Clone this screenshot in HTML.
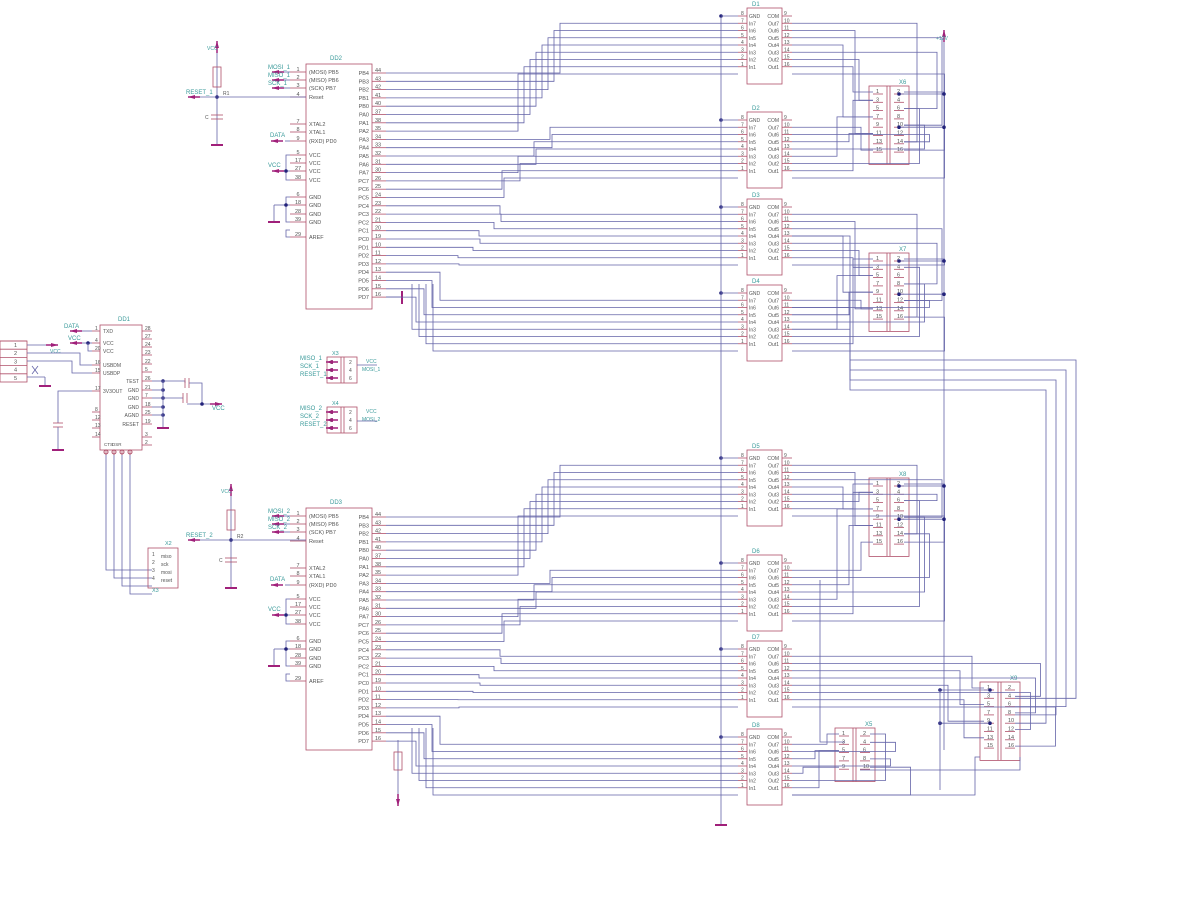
<!DOCTYPE html>
<html><head><meta charset="utf-8"><style>
html,body{margin:0;padding:0;background:#fff;width:1200px;height:921px;overflow:hidden}
svg{display:block}
text{font-family:"Liberation Sans",sans-serif}
</style></head><body>
<svg id="s" width="1200" height="921" viewBox="0 0 1200 921" xmlns="http://www.w3.org/2000/svg"></svg>
<script>
const S=document.getElementById('s');let out='';
const WC='#6464a8',CC='#b0506a',TC='#555',LC='#3a9a9a';
function L(x1,y1,x2,y2,c,w){out+=`<line x1="${x1}" y1="${y1}" x2="${x2}" y2="${y2}" stroke="${c||WC}" stroke-width="${w||0.8}"/>`;}
function P(pts,c){out+=`<polyline points="${pts.map(p=>p.join(',')).join(' ')}" fill="none" stroke="${c||WC}" stroke-width="0.8"/>`;}
function R(x,y,w,h,c){out+=`<rect x="${x}" y="${y}" width="${w}" height="${h}" fill="none" stroke="${c||CC}" stroke-width="0.8"/>`;}
function T(x,y,t,s,c,a){out+=`<text x="${x}" y="${y}" font-size="${s||6}" fill="${c||TC}" ${a?'text-anchor="'+a+'"':''}>${t}</text>`;}
function D(x,y){out+=`<circle cx="${x}" cy="${y}" r="1.8" fill="#22227a"/>`;}
function G(x,y){L(x-6,y,x+6,y,'#a0207a',2);}
function Arr(x,y,dir,label,lx,ly){
  out+=`<polygon points="${dir<0?`${x},${y} ${x+7},${y-2} ${x+7},${y+2}`:`${x},${y} ${x-7},${y-2} ${x-7},${y+2}`}" fill="#a0207a"/>`;
  L(dir<0?x:x-12,y,dir<0?x+12:x,y,'#a0207a',1.5);
  if(label)T(lx,ly,label,6,LC);
}
function ArrV(x,y,dir){ // dir -1 up, 1 down; tip at y
  out+=`<polygon points="${x},${y} ${x-2},${y-7*dir} ${x+2},${y-7*dir}" fill="#a0207a"/>`;
  L(x,y,x,y-12*dir,'#a0207a',1.5);
}
const rn=['PB4','PB3','PB2','PB1','PB0','PA0','PA1','PA2','PA3','PA4','PA5','PA6','PA7','PC7','PC6','PC5','PC4','PC3','PC2','PC1','PC0','PD1','PD2','PD3','PD4','PD5','PD6','PD7'];
const rnum=[44,43,42,41,40,37,38,35,34,33,32,31,30,26,25,24,23,22,21,20,19,10,11,12,13,14,15,16];
function MCU(y0,name,k){
  R(306,y0,66,y0>400?242:245);T(330,y0-4,name,6,LC);
  const lp=[[1,'(MOSI) PB5',8],[2,'(MISO) PB6',16],[3,'(SCK) PB7',24],[4,'Reset',33],[7,'XTAL2',60],[8,'XTAL1',68],[9,'(RXD) PD0',77],[5,'VCC',91],[17,'VCC',99],[27,'VCC',107],[38,'VCC',116],[6,'GND',133],[18,'GND',141],[28,'GND',150],[39,'GND',158],[29,'AREF',173]];
  lp.forEach(p=>{const y=y0+p[2];L(290,y,306,y,CC);T(298,y-1,p[0],5.5,TC,'middle');T(309,y+2,p[1],5.5);});
  P([[290,y0+91],[286,y0+91],[286,y0+116],[290,y0+116]]);P([[290,y0+133],[286,y0+133],[286,y0+158],[290,y0+158]]);
  L(278,y0+107,290,y0+107);D(286,y0+107);Arr(272,y0+107,-1,'VCC',268,y0+103);
  L(274,y0+141,290,y0+141);D(286,y0+141);L(274,y0+141,274,y0+158);G(274,y0+158);
  P([[290,y0+173],[286,y0+173],[286,y0+166],[290,y0+166]]);
  L(285,y0+77,290,y0+77);Arr(271,y0+77,-1,'DATA',270,y0+73);
  const ml=k==1?['MOSI_1','MISO_1','SCK_1']:['MOSI_2','MISO_2','SCK_2'];
  for(let i=0;i<3;i++){Arr(272,y0+8+8*i,-1,ml[i],268,y0+5+8*i);L(284,y0+8+8*i,290,y0+8+8*i);}
  for(let i=0;i<28;i++){const y=y0+9+i*8.3;L(372,y,386,y,CC);T(369,y+2,rn[i],5.5,TC,'end');T(375,y-1,rnum[i],5.5);}
}
MCU(64,'DD2',1);MCU(508,'DD3',2);
function RN(x,y0,lab,name){
  L(x,y0,x,y0+100);ArrV(x,y0-4,-1);R(x-4,y0+22,8,20);T(x+6,y0+50,name,5,TC);
  D(x,y0+52);L(x,y0+52,306,y0+52);Arr(188,y0+52,-1,lab,186,y0+49);L(200,y0+52,x,y0+52);
  L(x-6,y0+70,x+6,y0+70,CC);L(x-6,y0+74,x+6,y0+74,CC);T(x-12,y0+74,'C',5);G(x,y0+100);
}
RN(217,45,'RESET_1','R1');RN(231,488,'RESET_2','R2');
T(207,50,'VCC',5,LC);T(221,493,'VCC',5,LC);
L(386,297,402,297);L(402,291,402,304,'#a0207a',2);
L(398,740,398,800);R(394,752,8,18);ArrV(398,806,1);
const DY=[8,112,199,285,450,555,641,729];
const DDY=DY.map(y=>{const r=[];for(let k=0;k<9;k++)r.push(y+8+k*7.25);return r;});
DY.forEach((y,i)=>{R(747,y,35,76);T(752,y-2,'D'+(i+1),6,LC);
 const ln=['GND','In7','In6','In5','In4','In3','In2','In1'],rn2=['COM','Out7','Out6','Out5','Out4','Out3','Out2','Out1'];
 for(let k=0;k<8;k++){const yy=DDY[i][k];L(738,yy,747,yy,CC);L(782,yy,792,yy,CC);T(749,yy+2,ln[k],5);T(779,yy+2,rn2[k],5,TC,'end');T(741,yy-1,8-k,5);T(784,yy-1,9+k,5);}
 D(721,DDY[i][0]);L(721,DDY[i][0],738,DDY[i][0]);});
L(721,18,721,825);L(715,825,727,825,'#a0207a',2);
L(944,35,944,750);ArrV(944,30,-1);T(936,40,'+12V',5,LC);
function mcuWire(y0,dStart){
  for(let i=0;i<28;i++){
    const g=dStart+Math.floor(i/8),k=i%8;const ty=DDY[g][k+1];const sy=y0+9+i*8.3;
    let tx;
    if(i<8)tx=560-i*6; else if(i<16)tx=550-(i-8)*8+((k%2)?10:0); else if(i<24)tx=500-(i-16)*7+((k%3)?8:0); else tx=440-(i-24)*8;
    P([[386,sy],[tx,sy],[tx,ty],[738,ty]]);
  }
  for(let k=4;k<8;k++){const ty=DDY[dStart+3][k+1];const x=412+(k-4)*7;P([[x,y0+220],[x,ty],[738,ty]]);}
}
mcuWire(64,0);mcuWire(508,4);
function CON(x,y0,n,name){const h=n*8.3+12;R(x,y0,40,h);L(x+18,y0,x+18,y0+h,CC);L(x+21,y0,x+21,y0+h,CC);T(x+30,y0-2,name,6,LC);
 const ys=[];for(let r=0;r<n;r++){const y=y0+6+r*8.3;ys.push(y);L(x+4,y+2,x+14,y+2,CC);L(x+25,y+2,x+35,y+2,CC);T(x+7,y+1,2*r+1,5.5);T(x+28,y+1,2*r+2,5.5);}
 return ys;}
const X6=CON(869,86,8,'X6'),X7=CON(869,253,8,'X7'),X8=CON(869,478,8,'X8'),X9=CON(980,682,8,'X9'),X5=CON(835,728,5,'X5');
function outs(di,cx,cy,side){
  for(let k=0;k<8;k++){const sy=DDY[di][k+1];const ty=cy[k%cy.length];
    let tx;
    if(side[k]=='L'){tx=cx-8-((k*3)%14)*2;P([[792,sy],[tx,sy],[tx,ty],[cx+4,ty]]);}
    else{tx=cx+48+((k*5)%12)*2.5;P([[792,sy],[tx,sy],[tx,ty],[cx+35,ty]]);}
  }}
outs(0,869,[X6[6],X6[5],X6[4],X6[3],X6[2],X6[1],X6[0],X6[7]],['R','L','R','L','R','L','L','R']);
outs(1,869,[X6[7],X6[6],X6[5],X6[4],X6[3],X6[2],X6[1],X6[0]],['L','R','L','R','L','R','L','R']);
outs(2,869,[X7[7],X7[6],X7[5],X7[4],X7[3],X7[2],X7[1],X7[0]],['R','L','R','L','R','L','L','R']);
outs(3,869,[X7[6],X7[5],X7[4],X7[3],X7[2],X7[1],X7[0],X7[7]],['L','R','L','R','L','R','L','R']);
outs(4,869,[X8[6],X8[5],X8[4],X8[3],X8[2],X8[1],X8[0],X8[7]],['R','L','R','L','R','L','L','R']);
outs(5,869,[X8[7],X8[6],X8[5],X8[4],X8[3],X8[2],X8[1],X8[0]],['L','R','L','R','L','R','L','R']);
outs(6,980,[X9[0],X9[1],X9[2],X9[3],X9[4],X9[5],X9[6],X9[7]],['L','R','L','R','L','R','L','R']);
outs(7,835,[X5[0],X5[1],X5[2],X5[3],X5[4],X5[0],X5[2],X5[4]],['L','R','L','R','L','R','L','R']);
[[X6[0],X6[4]],[X7[0],X7[4]],[X8[0],X8[4]]].forEach(a=>a.forEach(y=>{L(899,y+2,944,y+2);D(899,y+2);D(944,y+2);}));
[X9[0],X9[4]].forEach(y=>{L(940,y+2,990,y+2);D(990,y+2);D(940,y+2);});
L(940,688,940,790);
[[DDY[3][2],1076],[DDY[3][3],1066],[DDY[2][4],1056],[DDY[3][5],1046]].forEach((a,i)=>{P([[792,a[0]],[850,a[0]],[850,360+i*10],[a[1],360+i*10],[a[1],X9[1+i]+2],[1015,X9[1+i]+2]]);});
P([[820,580],[820,742],[845,742]]);P([[1020,757],[1020,770],[860,770]]);
P([[980,757],[975,757],[975,795],[792,795]]);
R(100,325,42,125);T(118,321,'DD1',6,LC);
const dl=[[1,'TXD',331],[4,'VCC',343],[20,'VCC',351],[16,'USBDM',365],[15,'USBDP',373],[17,'3V3OUT',391],[8,'',412],[12,'',420],[13,'',428],[14,'',437]];
dl.forEach(p=>{L(92,p[2],100,p[2],CC);T(95,p[2]-1,p[0],5);T(103,p[2]+2,p[1],5);});
const dr=[[28,'',331],[27,'',339],[24,'',347],[23,'',355],[22,'',364],[5,'',372],[26,'TEST',381],[21,'GND',390],[7,'GND',398],[18,'GND',407],[25,'AGND',415],[19,'RESET',424],[3,'',437],[2,'',445]];
dr.forEach(p=>{L(142,p[2],152,p[2],CC);T(145,p[2]-1,p[0],5);T(139,p[2]+2,p[1],5,TC,'end');});
[381,390,398,407,415].forEach(y=>{D(163,y);L(152,y,163,y);});L(163,381,163,428);G(163,428);
P([[163,381],[185,381],[185,383]]);L(185,378,185,388,CC);L(189,378,189,388,CC);P([[189,383],[202,383],[202,404]]);
L(163,398,183,398);L(183,393,183,403,CC);L(187,393,187,403,CC);L(187,404,214,404);D(202,404);Arr(222,404,1,'VCC',212,410);
Arr(70,331,-1,'DATA',64,328);L(82,331,92,331);Arr(70,343,-1,'VCC',68,340);L(82,343,92,343);D(88,343);P([[88,343],[88,351],[92,351]]);
R(0,341,27,41);for(let r=0;r<5;r++){const y=341+r*8.2;L(0,y,27,y,CC);T(14,y+6,r+1,5.5);}
L(27,345,48,345);Arr(58,345,1);T(50,353,'VCC',5,LC);
P([[27,353],[80,353],[80,365],[92,365]]);P([[27,361],[72,361],[72,373],[92,373]]);
L(27,377,45,377);L(45,377,45,386);G(45,386);L(32,366,38,374);L(38,366,32,374);
P([[92,391],[58,391],[58,423]]);L(53,423,63,423,CC);L(53,427,63,427,CC);L(58,427,58,450);G(58,450);
[106,114,122,130].forEach((x,i)=>{L(x,450,x,455,CC);out+=`<circle cx="${x}" cy="${452}" r="2" fill="none" stroke="${CC}"/>`;P([[x,455],[x,570+i*8],[152,570+i*8]]);});
T(104,446,'CTS',4.5);T(112,446,'DSR',4.5);
R(148,548,30,40);T(165,545,'X2',5.5,LC);T(152,592,'X3',5.5,LC);
['miso','sck','mosi','reset'].forEach((t,i)=>{T(161,558+i*8,t,5);T(152,556+i*8,i+1,5);});
function SC(x,y,n,lab){R(x,y,30,26);L(x+14,y,x+14,y+26,CC);L(x+17,y,x+17,y+26,CC);T(x+5,y-2,lab,5.5,LC);
 for(let r=0;r<3;r++){T(x+3,y+7+r*8,2*r+1,5);T(x+22,y+7+r*8,2*r+2,5);}}
SC(327,357,3,'X3');SC(327,407,3,'X4');
[['MISO_1',362],['SCK_1',370],['RESET_1',378],['MISO_2',412],['SCK_2',420],['RESET_2',428]].forEach(a=>{Arr(326,a[1],-1,a[0],300,a[1]-2);});
T(366,363,'VCC',5,LC);T(362,371,'MOSI_1',5,LC);T(366,413,'VCC',5,LC);T(362,421,'MOSI_2',5,LC);
L(357,365,377,365);L(357,421,377,421);
S.innerHTML=out;
</script>
</body></html>
